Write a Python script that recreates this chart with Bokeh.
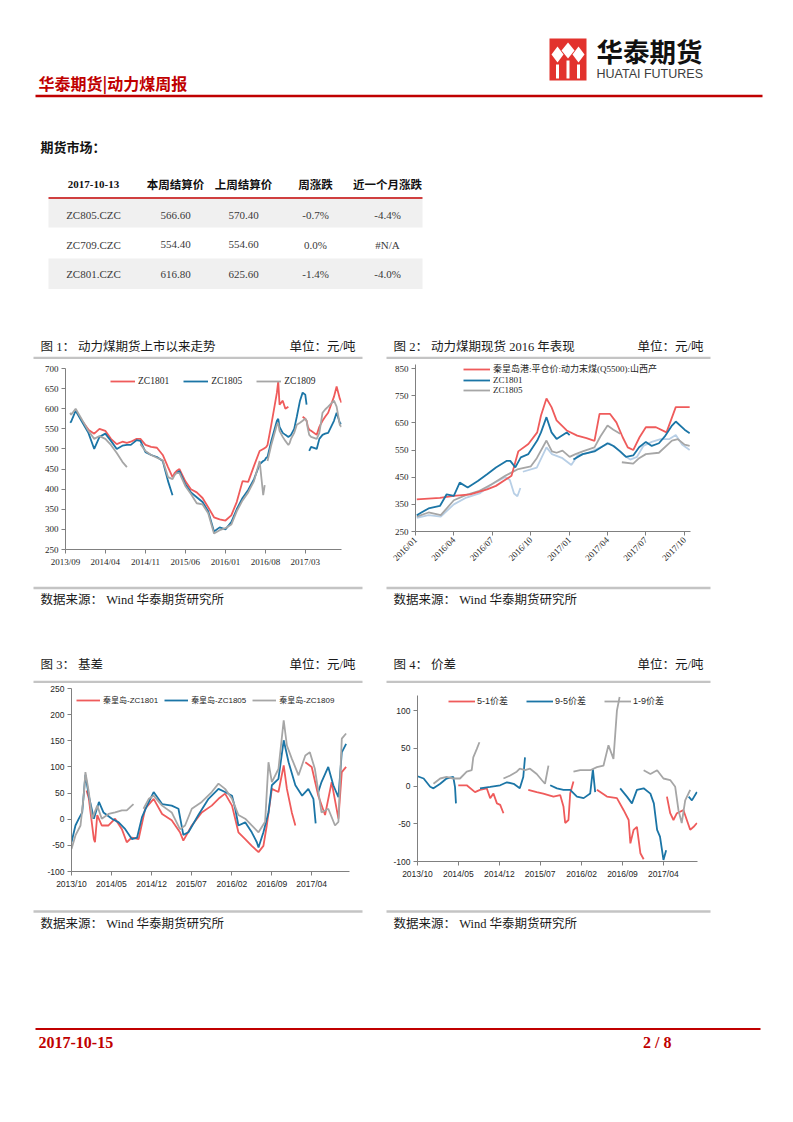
import math
import numpy as np
import pandas as pd
from bokeh.plotting import figure
from bokeh.models import Range1d, FixedTicker, Legend, LegendItem, ColumnDataSource
from bokeh.layouts import column, row
from bokeh.embed import file_html
from bokeh.resources import INLINE
from bokeh.core.properties import value

RED = "#ef5b5b"
BLUE = "#1b75a6"
GRAY = "#a6a6a6"
LBLUE = "#b8cfe6"
DARKRED = "#c00000"
CJK = "Noto Sans CJK SC"
SERIF_CJK = "Liberation Serif, Noto Sans CJK SC"
SANS_CJK = "Liberation Sans, Noto Sans CJK SC"
AXIS = "#808080"
TXT = "#262626"

# ---------------- table ----------------
table_date = "2017-10-13"
table_cols = ["本周结算价", "上周结算价", "周涨跌", "近一个月涨跌"]
contracts = ["ZC805.CZC", "ZC709.CZC", "ZC801.CZC"]
settle_this = ["566.60", "554.40", "616.80"]
settle_last = ["570.40", "554.60", "625.60"]
week_chg = ["-0.7%", "0.0%", "-1.4%"]
month_chg = ["-4.4%", "#N/A", "-4.0%"]

# ---------------- chart 1 ----------------
c1_ticks = ["2013/09", "2014/04", "2014/11", "2015/06", "2016/01", "2016/08", "2017/03"]
c1_dates = ["2013-09-26", "2013-10-01", "2013-10-25", "2013-12-01", "2014-01-01", "2014-02-01", "2014-03-01",
            "2014-04-01", "2014-05-01", "2014-06-01", "2014-07-01", "2014-07-25", "2014-08-15", "2014-09-15",
            "2014-10-05", "2014-11-01", "2014-12-01", "2015-01-01", "2015-02-01", "2015-03-01", "2015-03-25",
            "2015-04-05", "2015-04-15", "2015-05-01", "2015-06-01", "2015-07-01", "2015-08-01", "2015-09-01",
            "2015-10-01", "2015-11-01", "2015-12-01", "2016-01-01", "2016-02-01", "2016-03-01", "2016-04-01",
            "2016-05-01", "2016-06-01", "2016-07-01", "2016-07-20", "2016-07-28", "2016-08-05", "2016-08-12",
            "2016-09-01", "2016-10-01", "2016-10-08", "2016-10-15", "2016-11-01", "2016-11-15", "2016-12-01",
            "2016-12-08", "2016-12-15", "2017-01-01", "2017-01-15", "2017-02-01", "2017-02-15", "2017-03-01",
            "2017-03-08", "2017-03-15", "2017-03-22", "2017-04-01", "2017-05-01", "2017-05-15", "2017-06-01",
            "2017-06-15", "2017-07-01", "2017-08-01", "2017-08-15", "2017-09-01", "2017-09-10"]
c1_zc1801 = [None, None, None, 568, 548, 538, 550, 545, 525, 512, 518, 515, 518, 525, 525, 510, 505, 503, 485, 455,
             430, 440, 445, 450, 420, 400, 392, 378, 355, 330, 325, 322, 335, 368, 420, 418, 458, 495, 500, 502,
             505, 510, 560, 640, 668, 610, 620, 600, 605, None, None, None, None, None, 580, 575, 570, 555, 548,
             545, 535, 555, 570, 580, 590, 630, 655, 625, 615]
c1_zc1805 = [565, 568, 595, 565, 540, 500, 530, 538, 520, 500, 508, 510, 510, 522, 520, 492, 485, 480, 470, 420,
             385, None, 440, 445, 412, 392, 380, 368, 345, 295, 305, 300, 318, 350, 378, 398, 425, 462, 470, 472,
             478, 480, 520, 570, 575, 555, 540, 535, 530, 532, 535, 550, 580, 620, 640, 635, 610, None, 495,
             505, 500, 525, 535, 538, 540, 570, 590, 565, 562]
c1_zc1809 = [590, 585, 600, 570, 545, 525, 532, 525, 510, 490, 468, 455, None, None, 512, 495, 485, 478, 472, 430,
             425, 435, 440, 440, 408, 388, 365, 362, 340, 290, 298, 303, 312, 345, 372, 392, 420, 470, 385, 410,
             None, 470, 510, 560, 565, 545, 530, 520, 510, 515, 525, 540, 560, 565, 570, 575, 570, 550, 535,
             530, 525, 540, 590, 598, 605, 620, 605, 560, 555]

# ---------------- chart 2 ----------------
c2_ticks = ["2016/01", "2016/04", "2016/07", "2016/10", "2017/01", "2017/04", "2017/07", "2017/10"]
c2_spot_dates = ["2016-01-04", "2016-02-28", "2016-04-01", "2016-05-10", "2016-06-19", "2016-07-10", "2016-08-04",
                 "2016-08-16", "2016-09-01", "2016-09-25", "2016-10-16", "2016-10-25", "2016-11-07", "2016-11-19",
                 "2016-12-01", "2016-12-25", "2017-01-19", "2017-02-10", "2017-03-01", "2017-03-13", "2017-04-07",
                 "2017-04-22", "2017-05-07", "2017-05-19", "2017-06-01", "2017-06-16", "2017-07-01", "2017-07-25",
                 "2017-08-19", "2017-09-10", "2017-10-13"]
c2_spot = [368, 374, 381, 387, 405, 418, 443, 455, 545, 572, 615, 677, 740, 708, 659, 622, 603, 594, 584, 683,
           683, 652, 597, 560, 550, 597, 634, 634, 615, 708, 708]
c2_zc1801_dates = ["2016-01-04", "2016-01-15", "2016-02-01", "2016-02-28", "2016-03-15", "2016-04-01", "2016-04-15",
                   "2016-05-04", "2016-05-28", "2016-06-19", "2016-07-10", "2016-08-04", "2016-08-13", "2016-08-25",
                   "2016-09-07", "2016-09-25", "2016-10-16", "2016-10-25", "2016-11-07", "2016-11-19", "2016-12-01",
                   "2016-12-25", "2017-01-01", None, "2017-01-10", "2017-02-01", "2017-03-01", "2017-04-01",
                   "2017-04-15", "2017-05-01", "2017-05-15", "2017-06-01", "2017-06-15", "2017-07-01", "2017-07-15",
                   "2017-08-01", "2017-08-15", "2017-09-01", "2017-09-10", "2017-10-01", "2017-10-13"]
c2_zc1801 = [310, 320, 335, 344, 387, 381, 430, 412, 436, 461, 486, 510, 510, 486, 523, 535, 585, 615, 671, 615,
             591, 615, 605, None, 515, 535, 545, 575, 565, 545, 525, 530, 560, 580, 565, 575, 600, 640, 655, 625,
             612]
c2_zc1805_dates = ["2016-01-04", "2016-02-01", "2016-03-01", "2016-04-01", "2016-05-01", "2016-06-01", "2016-07-01",
                   "2016-08-01", "2016-09-01", "2016-10-01", "2016-10-15", "2016-11-07", "2016-11-20", "2016-12-01",
                   "2016-12-15", "2017-01-01", "2017-01-15", "2017-02-01", "2017-03-01", "2017-03-15", "2017-04-01",
                   "2017-04-15", "2017-05-01", None, "2017-05-05", "2017-06-01", "2017-06-15", "2017-07-01",
                   "2017-08-01", "2017-09-01", "2017-09-15", "2017-10-01", "2017-10-13"]
c2_zc1805 = [305, 320, 310, 365, 385, 400, 425, 455, 480, 490, 520, 585, 545, 540, 548, 525, 535, 545, 560, 600,
             640, 625, 610, None, 505, 500, 520, 535, 540, 585, 590, 570, 565]
c2_other_dates = ["2016-01-04", "2016-02-01", "2016-03-01", "2016-04-01", "2016-05-01", "2016-06-01", "2016-07-01",
                  "2016-08-01", "2016-08-12", "2016-08-22", "2016-08-30", "2016-09-06", None, "2016-09-12",
                  "2016-10-15", "2016-11-07", "2016-11-20", "2016-12-15", "2017-01-05", "2017-01-20", "2017-02-15",
                  "2017-03-15", "2017-04-05", "2017-04-20", "2017-05-10", "2017-05-25", "2017-06-10", "2017-06-25",
                  "2017-07-15", "2017-08-05", "2017-08-25", "2017-09-10", "2017-09-25", "2017-10-13"]
c2_other = [300, 310, 305, 350, 375, 390, 425, 450, 440, 390, 380, 410, None, 470, 485, 560, 535, 520, 495, 530,
            540, 560, 575, 560, 530, 515, 525, 565, 580, 590, 590, 605, 570, 550]

# ---------------- chart 3 ----------------
c3_ticks = ["2013/10", "2014/05", "2014/12", "2015/07", "2016/02", "2016/09", "2017/04"]
c3_b1801_dates = ["2013-12-20", "2014-01-01", "2014-01-28", "2014-02-03", "2014-02-15", "2014-03-11", "2014-04-16",
                  "2014-05-21", "2014-06-26", "2014-07-22", "2014-08-18", "2014-09-23", "2014-10-28", "2014-12-12",
                  "2015-01-26", "2015-03-18", "2015-05-01", "2015-05-19", "2015-07-03", "2015-08-25", "2015-10-17",
                  "2015-11-22", "2015-12-27", "2016-02-02", "2016-03-07", "2016-04-12", "2016-05-17", "2016-06-22",
                  "2016-07-18", "2016-08-05", "2016-09-01", "2016-10-06", "2016-11-03", "2016-11-20", "2016-12-16",
                  "2017-01-04", None, "2017-02-26", "2017-04-01", "2017-05-06", "2017-06-11", "2017-07-16",
                  "2017-08-21", "2017-09-08", "2017-10-01"]
c3_b1801 = [55, 40, -38, -44, 8, -12, -12, 1, -19, -44, -35, -38, 20, 39, 10, -2, -25, -41, -12, 13, 26, 39, 49,
            26, -25, -38, -51, -63, -51, -12, 58, 52, 103, 58, 13, -12, None, 109, 100, 45, 8, 71, 1, 90, 100]
c3_b1805_dates = ["2013-10-01", "2013-10-22", "2013-11-09", "2013-11-27", "2013-12-14", "2014-01-01", "2014-01-28",
                  "2014-02-24", "2014-03-20", "2014-05-04", "2014-06-09", "2014-07-14", "2014-08-18", "2014-09-15",
                  "2014-10-11", "2014-11-07", "2014-12-12", "2015-01-26", "2015-03-18", "2015-04-23", "2015-05-19",
                  "2015-06-15", "2015-08-07", "2015-09-30", "2015-11-22", "2015-12-27", "2016-02-02", "2016-02-19",
                  "2016-03-07", "2016-04-12", "2016-05-17", "2016-06-13", "2016-06-22", "2016-07-18", "2016-08-14",
                  "2016-09-01", "2016-10-06", "2016-11-03", "2016-11-29", "2017-01-04", "2017-02-09", "2017-03-14",
                  "2017-04-10", "2017-04-22", None, "2017-05-06", "2017-05-23", "2017-06-28", "2017-07-25",
                  "2017-08-21", "2017-09-08", "2017-10-01"]
c3_b1805 = [-44, -12, 1, 13, 85, 45, 1, 33, 13, 1, -6, -19, -38, -35, 4, 26, 52, 29, 26, 20, -30, -25, 8, 39, 58,
            52, 45, 20, -12, -6, -25, -44, -54, -25, 13, 65, 77, 151, 109, 65, 45, 58, 39, -8, None, 52, 71, 100,
            65, 42, 128, 144]
c3_b1809_dates = ["2013-10-01", "2013-10-22", "2013-11-18", "2013-12-05", "2013-12-14", "2014-01-01", "2014-01-19",
                  "2014-02-15", "2014-03-11", "2014-04-16", "2014-05-21", "2014-06-26", "2014-07-22", "2014-08-18",
                  "2014-08-27", None, "2014-10-19", "2014-11-16", "2014-12-12", "2015-01-26", "2015-03-18",
                  "2015-05-01", "2015-05-28", "2015-07-03", "2015-08-25", "2015-10-17", "2015-11-22", "2015-12-27",
                  "2016-02-02", "2016-03-07", "2016-04-12", "2016-05-17", "2016-06-22", "2016-07-27", "2016-08-14",
                  "2016-09-01", "2016-10-06", "2016-11-03", "2016-11-20", "2016-12-16", "2017-01-21", "2017-02-26",
                  "2017-03-22", "2017-04-18", "2017-05-23", "2017-06-28", "2017-08-03", "2017-08-21", "2017-09-08",
                  "2017-10-01"]
c3_b1809 = [-57, -31, -12, 45, 90, 52, 1, 26, 1, 10, 13, 17, 17, 26, 29, None, 20, 39, 45, 26, 13, -19, -12, 20,
            33, 52, 68, 58, 39, 8, 1, -12, -25, -5, 109, 71, 96, 189, 141, 116, 84, 122, 128, 96, 13, 20, -12, -5,
            154, 164]

# ---------------- chart 4 ----------------
c4_ticks = ["2013/10", "2014/05", "2014/12", "2015/07", "2016/02", "2016/09", "2017/04"]
c4_s51_dates = ["2014-05-01", "2014-06-14", "2014-07-27", "2014-08-22", "2014-09-26", "2014-10-14", "2014-10-31",
                "2014-11-18", "2014-12-05", "2014-12-22", None, "2015-04-30", "2015-06-13", "2015-07-17",
                "2015-09-08", "2015-10-13", "2015-10-30", "2015-11-08", "2015-11-25", "2015-12-04", "2015-12-21",
                None, "2016-04-21", "2016-06-12", "2016-08-03", "2016-09-07", "2016-10-03", "2016-10-12",
                "2016-10-29", "2016-11-15", "2016-12-03", "2016-12-20", None, "2017-04-20", "2017-05-07",
                "2017-05-24", "2017-06-11", "2017-07-15", "2017-08-19", "2017-09-06", "2017-09-23"]
c4_s51 = [1, 1, -8, -5, -3, -16, -10, -23, -25, -36, None, -5, -8, -10, -14, -12, -27, -49, -45, -10, 6, None,
          -5, -14, -16, -32, -45, -76, -58, -54, -89, -97, None, -14, -36, -45, -36, -32, -58, -54, -49]
c4_s95_dates = ["2013-10-01", "2013-11-02", "2013-12-06", "2013-12-23", "2014-01-27", "2014-03-01", "2014-04-05",
                "2014-04-14", "2014-04-19", None, "2014-08-22", "2014-10-14", "2014-12-05", "2015-01-09",
                "2015-02-13", "2015-03-17", "2015-04-04", "2015-04-13", None, "2015-08-22", "2015-09-26",
                "2015-10-30", "2015-12-04", "2016-01-08", "2016-02-12", "2016-03-17", "2016-03-31", "2016-04-12",
                None, "2016-08-20", "2016-09-24", "2016-10-20", "2016-11-15", "2016-12-20", "2017-01-24",
                "2017-02-11", "2017-02-28", "2017-03-15", "2017-04-02", "2017-04-16", None, "2017-08-11",
                "2017-08-28", "2017-09-23"]
c4_s95 = [13, 10, -1, -3, 3, 10, 12, -1, -23, None, -3, -1, 1, 5, 3, -3, 12, 38, None, 1, -3, -5, -5, -14, -16,
          -10, 22, -8, None, -3, -14, -23, -5, -3, -10, -23, -58, -67, -98, -85, None, -14, -19, -8]
c4_s19_dates = ["2013-12-23", "2014-01-27", "2014-03-01", "2014-04-05", "2014-05-10", "2014-06-14", "2014-07-10",
                "2014-07-18", "2014-08-05", "2014-08-19", None, "2014-12-22", "2015-01-26", "2015-03-01",
                "2015-03-17", "2015-04-13", "2015-05-09", "2015-06-13", "2015-07-09", "2015-07-26", "2015-08-13",
                None, "2015-12-21", "2016-01-25", "2016-03-17", "2016-04-21", "2016-05-25", "2016-06-20",
                "2016-07-16", "2016-08-03", "2016-08-17", None, "2016-12-20", "2017-01-24", "2017-02-28",
                "2017-04-02", "2017-05-07", "2017-06-02", "2017-06-19", "2017-07-06", "2017-07-24", "2017-08-19"]
c4_s19 = [3, 10, 12, 10, 10, 19, 21, 38, 49, 58, None, 10, 14, 19, 23, 21, 23, 16, 8, 3, 27, None, 19, 21, 21, 25,
          27, 54, 36, 100, 118, None, 21, 16, 21, 10, 8, -1, -32, -49, -19, -5]


def ms(d):
    return np.nan if d is None else pd.Timestamp(d).value / 1e6


def src(dates, vals):
    return ColumnDataSource(dict(x=[ms(d) for d in dates],
                                 y=[np.nan if v is None else float(v) for v in vals]))


def page_fig(x0, x1, y0, y1):
    p = figure(width=x1 - x0, height=y1 - y0, x_range=Range1d(x0, x1), y_range=Range1d(y1, y0),
               output_backend="svg", toolbar_location=None, min_border=0,
               x_axis_location=None, y_axis_location=None)
    p.grid.visible = False
    p.outline_line_color = None
    p.frame_align = False
    return p


def put_text(p, x, y, txt, font, size, color=TXT, align="left", style="normal"):
    p.text(x=[x], y=[y], text=[txt], text_font=value(font), text_font_size=size, text_color=color,
           text_align=align, text_baseline="middle", text_font_style=style)


def chart(w, h, lrtb, xr, yr, xticks, yticks, font, size):
    l, r, t, b = lrtb
    p = figure(width=w, height=h, x_axis_type="datetime", x_range=Range1d(ms(xr[0]), ms(xr[1])),
               y_range=Range1d(*yr), output_backend="svg", toolbar_location=None,
               min_border_left=l, min_border_right=r, min_border_top=t, min_border_bottom=b)
    p.frame_align = False
    p.grid.visible = False
    p.outline_line_color = None
    xt = [ms(s.replace("/", "-") + "-01") for s in xticks]
    p.xaxis.ticker = FixedTicker(ticks=xt)
    p.xaxis.major_label_overrides = dict(zip(xt, xticks))
    p.yaxis.ticker = FixedTicker(ticks=list(yticks))
    p.yaxis.major_label_overrides = {float(v): str(v) for v in yticks}
    for ax in (p.xaxis[0], p.yaxis[0]):
        ax.axis_line_color = AXIS
        ax.major_tick_line_color = AXIS
        ax.minor_tick_line_color = None
        ax.major_tick_in = 0
        ax.major_tick_out = 4
        ax.major_label_text_font = font
        ax.major_label_text_font_size = size
        ax.major_label_text_color = TXT
        ax.major_label_standoff = 3
    return p


def draw(p, dates, vals, color, width=1.8):
    return p.line("x", "y", source=src(dates, vals), line_color=color, line_width=width)


def legend(p, items, loc, orientation, glyph_w, spacing, standoff, font, size):
    lg = Legend(items=[LegendItem(label=lab, renderers=[r]) for lab, r in items], location=loc,
                orientation=orientation, glyph_width=glyph_w, glyph_height=10, label_height=10,
                label_standoff=standoff, spacing=spacing, padding=0, margin=0, border_line_color=None,
                background_fill_alpha=0, label_text_font=font, label_text_font_size=size,
                label_text_color=TXT)
    p.add_layout(lg)


def title_band(x0, x1, y0, y1, ty, ry, rx0, rx1, title, unit, ux):
    p = page_fig(x0, x1, y0, y1)
    put_text(p, rx0 + 7, ty, title, SERIF_CJK, "12.5px", "#1a1a1a")
    put_text(p, ux, ty, unit, SERIF_CJK, "12.5px", "#1a1a1a", align="right")
    p.segment(x0=[rx0], y0=[ry], x1=[rx1], y1=[ry], line_color="#c4c4c4", line_width=2.5)
    return p


def source_band(x0, x1, y0, y1, ry, ty, rx0, rx1):
    p = page_fig(x0, x1, y0, y1)
    p.segment(x0=[rx0], y0=[ry], x1=[rx1], y1=[ry], line_color="#c4c4c4", line_width=2.5)
    put_text(p, rx0 + 7, ty, "数据来源：  Wind  华泰期货研究所", SERIF_CJK, "12.5px", "#1a1a1a")
    return p


# ---------------- top area (header + table) ----------------
top = page_fig(0, 790, 0, 333)
# logo
top.quad(left=[549], right=[586], top=[38], bottom=[80], fill_color="#e2322d", line_color=None)
top.patches(xs=[[551, 557, 563, 557], [561, 567.5, 574, 567.5], [572, 578, 584, 578]],
            ys=[[54, 46, 54, 62], [50, 42, 50, 58], [54, 46, 54, 62]], fill_color="white", line_color=None)
top.quad(left=[555.5, 566, 576.5], right=[558.5, 569, 579.5], top=[64, 60, 64], bottom=[78, 78, 78],
         fill_color="white", line_color=None)
put_text(top, 596, 50, "华泰期货", CJK, "26.5px", "#111111", style="bold")
put_text(top, 596, 73, "HUATAI FUTURES", "Liberation Sans", "12.5px", "#3c3c3c")
put_text(top, 38, 82, "华泰期货|动力煤周报", CJK, "16px", DARKRED, style="bold")
top.segment(x0=[35], y0=[95.5], x1=[762], y1=[95.5], line_color=DARKRED, line_width=2.5)
put_text(top, 40, 146, "期货市场：", CJK, "13px", "#111111", style="bold")

# table
col_x = [93, 175, 243, 315, 387]
hdr_y = 183.5
row_top = [198.5, 227, 258]
row_bot = [227, 258, 288.5]
row_y = [214.5, 244, 273.5]
top.quad(left=[48, 48], right=[422, 422], top=[row_top[0], row_top[2]], bottom=[row_bot[0], row_bot[2]],
         fill_color="#f0f0f0", line_color=None)
top.segment(x0=[48], y0=[197.5], x1=[422], y1=[197.5], line_color=DARKRED, line_width=1.6)
put_text(top, col_x[0], hdr_y, table_date, "Liberation Serif", "11px", "#111111", align="center", style="bold")
for cx, lab in zip(col_x[1:], table_cols):
    put_text(top, cx, hdr_y, lab, CJK, "11.5px", "#111111", align="center", style="bold")
for i in range(3):
    cells = [contracts[i], settle_this[i], settle_last[i], week_chg[i], month_chg[i]]
    for cx, cell in zip(col_x, cells):
        put_text(top, cx, row_y[i], cell, "Liberation Serif", "11px", "#3a3a3a", align="center")

# ---------------- chart 1 ----------------
p1 = chart(375, 223, (65, 34, 9, 33), ("2013-09-01", "2017-09-10"), (250, 700), c1_ticks,
           range(250, 701, 50), "Liberation Serif", "9px")
r1 = draw(p1, c1_dates, c1_zc1801, RED)
b1 = draw(p1, c1_dates, c1_zc1805, BLUE)
g1 = draw(p1, c1_dates, c1_zc1809, GRAY)
legend(p1, [("ZC1801", r1), ("ZC1805", b1), ("ZC1809", g1)], (45, 163), "horizontal", 25, 14, 3,
       "Liberation Serif", "9.5px")

# ---------------- chart 2 ----------------
p2 = chart(415, 223, (40, 100, 5, 51), ("2016-01-01", "2017-10-15"), (250, 865), c2_ticks,
           range(250, 851, 100), "Liberation Serif", "9px")
p2.xaxis.major_label_orientation = math.pi / 4
o2 = draw(p2, c2_other_dates, c2_other, LBLUE)
g2 = draw(p2, c2_zc1805_dates, c2_zc1805, GRAY)
r2 = draw(p2, c2_spot_dates, c2_spot, RED)
b2 = draw(p2, c2_zc1801_dates, c2_zc1801, BLUE)
legend(p2, [("秦皇岛港:平仓价:动力末煤(Q5500):山西产", r2), ("ZC1801", b2), ("ZC1805", g2)], (48, 136),
       "vertical", 27, 0, 3, SERIF_CJK, "9px")

# ---------------- chart 3 ----------------
p3 = chart(375, 217, (71, 26, 5, 29), ("2013-10-01", "2017-10-19"), (-100, 250), c3_ticks,
           range(-100, 251, 50), "Liberation Sans", "8.5px")
r3 = draw(p3, c3_b1801_dates, c3_b1801, RED)
b3 = draw(p3, c3_b1805_dates, c3_b1805, BLUE)
g3 = draw(p3, c3_b1809_dates, c3_b1809, GRAY)
legend(p3, [("秦皇岛-ZC1801", r3), ("秦皇岛-ZC1805", b3), ("秦皇岛-ZC1809", g3)], (5, 166), "horizontal",
       24, 6, 3, SANS_CJK, "8px")

# ---------------- chart 4 ----------------
p4 = chart(415, 217, (42, 93, 12, 39), ("2013-10-01", "2017-09-26"), (-100, 120), c4_ticks,
           range(-100, 101, 50), "Liberation Sans", "8.5px")
r4 = draw(p4, c4_s51_dates, c4_s51, RED)
b4 = draw(p4, c4_s95_dates, c4_s95, BLUE)
g4 = draw(p4, c4_s19_dates, c4_s19, GRAY)
legend(p4, [("5-1价差", r4), ("9-5价差", b4), ("1-9价差", g4)], (31, 154), "horizontal", 27, 18, 2,
       SANS_CJK, "9px")

# ---------------- bands ----------------
t1 = title_band(0, 375, 333, 359, 346, 357.5, 33, 362, "图 1： 动力煤期货上市以来走势", "单位：元/吨", 355)
t2 = title_band(375, 790, 333, 359, 346, 357.5, 386, 710, "图 2： 动力煤期现货 2016 年表现", "单位：元/吨", 703)
s1 = source_band(0, 375, 582, 640, 587.5, 599, 33, 362)
s2 = source_band(375, 790, 582, 640, 587.5, 599, 386, 710)
t3 = title_band(0, 375, 640, 683, 664.5, 681.5, 33, 362, "图 3： 基差", "单位：元/吨", 355)
t4 = title_band(375, 790, 640, 683, 664.5, 681.5, 386, 710, "图 4： 价差", "单位：元/吨", 703)
s3 = source_band(0, 375, 900, 940, 911, 923, 33, 362)
s4 = source_band(375, 790, 900, 940, 911, 923, 386, 710)

# ---------------- footer ----------------
foot = page_fig(0, 790, 940, 1060)
foot.segment(x0=[35], y0=[1028.5], x1=[760], y1=[1028.5], line_color=DARKRED, line_width=2.2)
put_text(foot, 38, 1042, "2017-10-15", "Liberation Serif", "16px", DARKRED, style="bold")
put_text(foot, 671, 1042, "2 / 8", "Liberation Serif", "16px", DARKRED, align="right", style="bold")

layout = column(
    top,
    row(column(t1, p1, s1), column(t2, p2, s2)),
    row(column(t3, p3, s3), column(t4, p4, s4)),
    foot,
)

open("out.html", "w").write(file_html(layout, INLINE))
